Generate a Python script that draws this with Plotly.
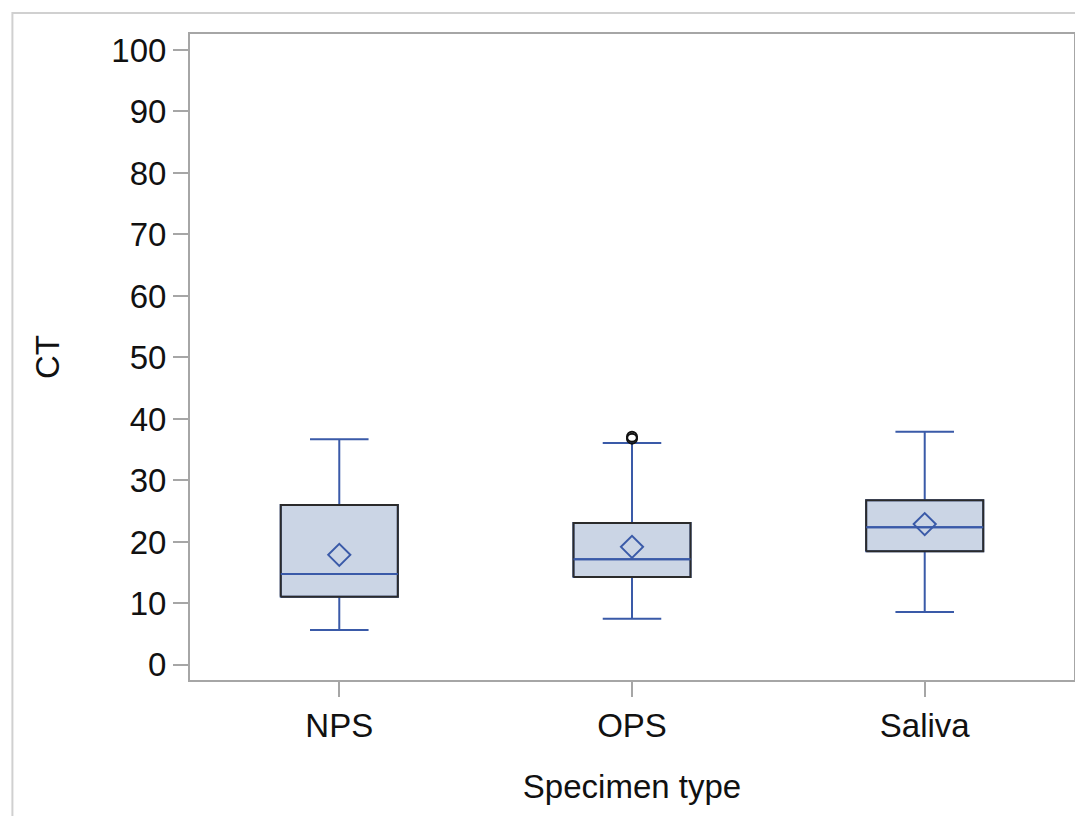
import plotly.graph_objects as go

categories = ["NPS", "OPS", "Saliva"]
lower_whisker = [5.7, 7.5, 8.6]
q1 = [11.1, 14.3, 18.5]
median = [14.8, 17.2, 22.4]
q3 = [26.0, 23.1, 26.8]
upper_whisker = [36.7, 36.1, 37.9]
means = [17.9, 19.2, 22.9]
outlier_cat = ["OPS", "OPS"]
outlier_val = [36.8, 37.1]

y_ticks = [0, 10, 20, 30, 40, 50, 60, 70, 80, 90, 100]

BLUE = "#3a5aa8"
FILL = "#cbd5e5"
EDGE = "#2b2b2b"
AXIS = "#a6a6a6"
FONT = "Liberation Sans, Arial, sans-serif"
FS = 33

xpos = list(range(len(categories)))
pos_of = {c: i for i, c in enumerate(categories)}
box_w = 0.4

fig = go.Figure()

fig.add_trace(go.Box(
    x=xpos, q1=q1, median=median, q3=q3,
    lowerfence=lower_whisker, upperfence=upper_whisker,
    width=box_w, whiskerwidth=0.5,
    fillcolor=FILL, line=dict(color=BLUE, width=2),
    boxpoints=False, showlegend=False, hoverinfo="skip",
))

for i in xpos:
    xs = [i - box_w / 2, i + box_w / 2, i + box_w / 2, i - box_w / 2, i - box_w / 2]
    ys = [q1[i], q1[i], q3[i], q3[i], q1[i]]
    fig.add_trace(go.Scatter(x=xs, y=ys, mode="lines",
                             line=dict(color=EDGE, width=2),
                             showlegend=False, hoverinfo="skip"))
    fig.add_trace(go.Scatter(x=[i - box_w / 2, i + box_w / 2], y=[median[i], median[i]],
                             mode="lines", line=dict(color=BLUE, width=2),
                             showlegend=False, hoverinfo="skip"))

fig.add_trace(go.Scatter(
    x=xpos, y=means, mode="markers",
    marker=dict(symbol="diamond-open", size=17, color=BLUE, line=dict(width=2, color=BLUE)),
    showlegend=False, hoverinfo="skip",
))

fig.add_trace(go.Scatter(
    x=[pos_of[c] for c in outlier_cat], y=outlier_val, mode="markers",
    marker=dict(symbol="circle-open", size=10, color="#111111", line=dict(width=2, color="#111111")),
    showlegend=False, hoverinfo="skip",
))

fig.add_shape(type="rect", xref="paper", yref="paper",
              x0=-0.2009, x1=1.05, y0=-0.4, y1=1.0325,
              line=dict(color="#d0d0d0", width=2), fillcolor="rgba(0,0,0,0)", layer="below")

fig.update_layout(
    width=1075, height=808,
    margin=dict(l=182, r=7, t=26, b=136),
    paper_bgcolor="white", plot_bgcolor="white",
    font=dict(family=FONT, size=FS, color="#111111"),
    xaxis=dict(
        range=[-0.51, 2.51], tickvals=xpos, ticktext=categories,
        showgrid=False, zeroline=False,
        showline=True, linecolor=AXIS, linewidth=2, mirror=True,
        ticks="outside", ticklen=15, tickwidth=2, tickcolor=AXIS,
        tickfont=dict(size=FS, family=FONT),
        title=dict(text="Specimen type", font=dict(size=FS, family=FONT), standoff=32),
    ),
    yaxis=dict(
        range=[-2.45, 102.6], tickvals=y_ticks,
        showgrid=False, zeroline=False,
        showline=True, linecolor=AXIS, linewidth=2, mirror=True,
        ticks="outside", ticklen=15, tickwidth=2, tickcolor=AXIS,
        tickfont=dict(size=FS, family=FONT),
        title=dict(text="CT", font=dict(size=FS, family=FONT), standoff=42),
    ),
)

fig.write_html("out.html")
